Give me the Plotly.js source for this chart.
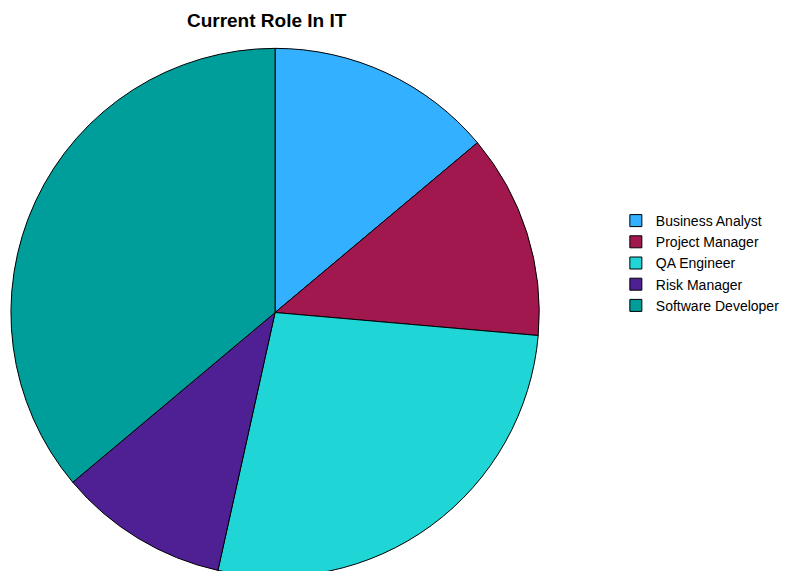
<!DOCTYPE html>
<html>
<head>
<meta charset="utf-8">
<script src="https://cdn.plot.ly/plotly-3.0.1.min.js"></script>
<style>
html, body { margin: 0; padding: 0; overflow: hidden; background: #ffffff; width: 785px; height: 571px; }
#chart { width: 785px; height: 620px; }
</style>
</head>
<body>
<div id="chart"></div>
<script>
const roles = ["Business Analyst", "Project Manager", "QA Engineer", "Risk Manager", "Software Developer"];
const counts = [20, 18, 39, 15, 52];
const colors = ["#33b0ff", "#a0184e", "#20d5d5", "#4e2094", "#009e9a"];

const W = 785, H = 620;
const cx = 276.5, cy = 312.5, r = 265.5;

const trace = {
  type: "pie",
  labels: roles,
  values: counts,
  sort: false,
  direction: "clockwise",
  rotation: 0,
  textinfo: "none",
  hoverinfo: "label+value+percent",
  marker: { colors: colors, line: { color: "#000000", width: 1 } },
  domain: { x: [(cx - r) / W, (cx + r) / W], y: [1 - (cy + r) / H, 1 - (cy - r) / H] }
};

const layout = {
  width: W,
  height: H,
  margin: { l: 0, r: 0, t: 0, b: 0 },
  paper_bgcolor: "#ffffff",
  font: { family: "Liberation Sans, Arial, sans-serif", color: "#000000" },
  title: {
    text: "<b>Current Role In IT</b>",
    font: { family: "Liberation Sans, Arial, sans-serif", size: 19, color: "#000000" },
    x: 268 / W, xref: "paper", xanchor: "center",
    y: 1 - 20 / H, yref: "container", yanchor: "middle"
  },
  showlegend: true,
  legend: {
    x: 619 / W, xanchor: "left",
    y: 1 - 263 / H, yanchor: "middle",
    font: { size: 14, color: "#000000" },
    traceorder: "normal",
    bgcolor: "rgba(0,0,0,0)"
  }
};

Plotly.newPlot("chart", [trace], layout, { displayModeBar: false, staticPlot: true });
</script>
</body>
</html>
